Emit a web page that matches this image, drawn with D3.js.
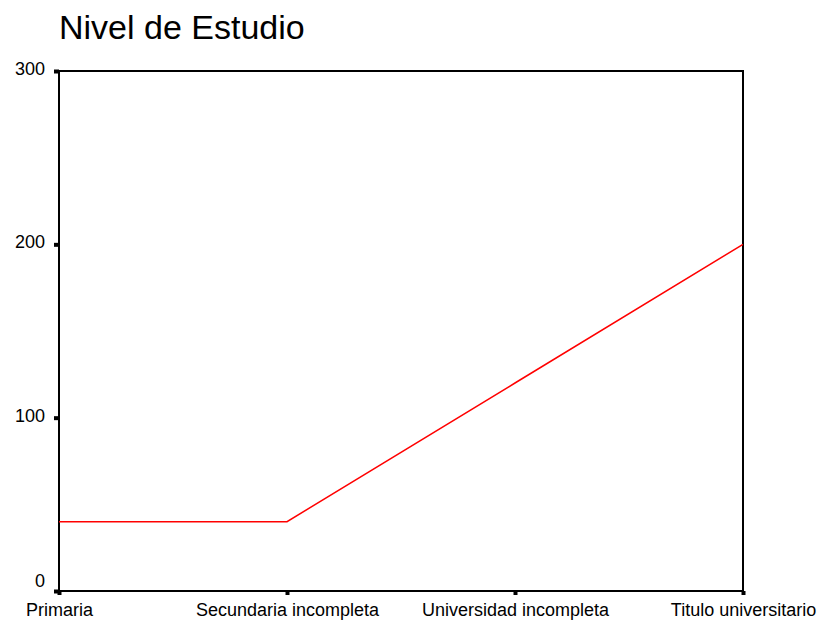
<!DOCTYPE html>
<html>
<head>
<meta charset="utf-8">
<script src="https://cdn.jsdelivr.net/npm/d3@7"></script>
<style>
  body { margin: 0; background: #fff; }
  text { font-family: "Liberation Sans", Arial, sans-serif; }
</style>
</head>
<body>
<script>
// data
const categories = ["Primaria", "Secundaria incompleta", "Universidad incompleta", "Titulo universitario"];
const values = [40, 40, 120, 200];
const yTicks = [0, 100, 200, 300];

// dimensions
const margin = {top: 71, right: 77, bottom: 30, left: 59},
    width = 820 - margin.left - margin.right,
    height = 621 - margin.top - margin.bottom;

const svg = d3.select("body")
  .append("svg")
    .attr("width", 820)
    .attr("height", 621)
  .append("g")
    .attr("transform", "translate(" + margin.left + "," + margin.top + ")");

// title
svg.append("text")
    .attr("x", 0)
    .attr("y", -32)
    .attr("font-size", "34px")
    .attr("fill", "#000")
    .text("Nivel de Estudio");

// scales
const x = d3.scalePoint()
    .domain(categories)
    .range([0, width]);

const y = d3.scaleLinear()
    .domain([0, 300])
    .range([height, 0]);

// frame
svg.append("rect")
    .attr("x", 0)
    .attr("y", 0)
    .attr("width", width)
    .attr("height", height)
    .attr("fill", "none")
    .attr("stroke", "#000")
    .attr("stroke-width", 2);

// x axis
const xAxis = svg.append("g")
    .attr("transform", "translate(0," + height + ")")
    .call(d3.axisBottom(x).tickSize(4).tickSizeOuter(0));
xAxis.select(".domain").remove();
xAxis.selectAll(".tick line").attr("stroke-width", 4);
xAxis.selectAll("text")
    .attr("y", 12)
    .attr("font-size", "18px")
    .attr("fill", "#000");

// y axis
const yAxis = svg.append("g")
    .call(d3.axisLeft(y).tickValues(yTicks).tickSize(5).tickSizeOuter(0));
yAxis.select(".domain").remove();
yAxis.selectAll(".tick line").attr("stroke-width", 4);
yAxis.selectAll("text")
    .attr("x", -14)
    .attr("font-size", "18px")
    .attr("fill", "#000")
    .attr("dy", d => d === 0 ? "-0.24em" : "0.2em");

// line
const line = d3.line()
    .x((d, i) => x(categories[i]))
    .y(d => y(d));

svg.append("path")
    .datum(values)
    .attr("fill", "none")
    .attr("stroke", "#ff0000")
    .attr("stroke-width", 1.5)
    .attr("d", line);
</script>
</body>
</html>
